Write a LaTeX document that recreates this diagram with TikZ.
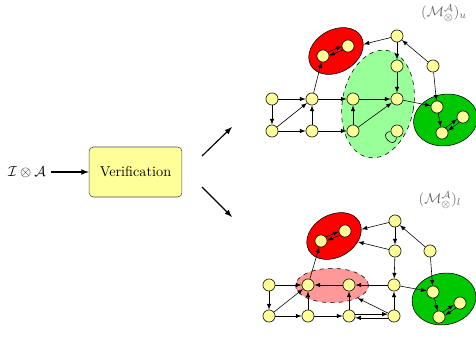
\documentclass[tikz,border=0pt]{standalone}
\usepackage{amsmath,amssymb}
\usetikzlibrary{shapes.geometric}
\definecolor{stateyellow}{RGB}{255,255,153}
\definecolor{sccred}{RGB}{255,0,0}
\definecolor{sccgreen}{RGB}{0,200,0}
\definecolor{paleGreen}{RGB}{153,255,153}
\definecolor{paleRed}{RGB}{255,153,153}
\begin{document}
\begin{tikzpicture}[
    x=0.7pt, y=0.7pt,
    >=latex,
    state/.style={circle, draw, fill=stateyellow, inner sep=0pt, minimum size=8.5pt},
    blob/.style={ellipse, draw, inner sep=0pt},
    redblob/.style={blob, fill=sccred, minimum width=40.6pt, minimum height=29.7pt, rotate=30},
    greenblob/.style={blob, fill=sccgreen, minimum width=45pt, minimum height=36pt, rotate=10},
    arrow/.style={->},
    mainarrow/.style={->, thick},
    tag/.style={text=black!60}
]
\useasboundingbox (0,0) rectangle (476,337);

% Input and verification
\node (in) at (27,165) {$\mathcal{I} \otimes \mathcal{A}$};
\node[draw=black!70, fill=stateyellow, rounded corners=3pt, minimum width=65pt, minimum height=35pt] (ver) at (135.5,165) {Verification};
\coordinate (up-start) at (202,181);
\coordinate (up-end) at (232,210);
\coordinate (lo-start) at (202,150);
\coordinate (lo-end) at (232,120);
\draw[mainarrow] (in) -- (ver);
\draw[mainarrow] (up-start) -- (up-end);
\draw[mainarrow] (lo-start) -- (lo-end);

% Upper graph
\node[tag] (u-tag) at (444,324) {$(\mathcal{M}^{\mathcal{A}}_{\otimes})_u$};
\node[redblob] (u-red) at (336,286) {};
\node[blob, dashed, fill=paleGreen, minimum width=50pt, minimum height=76pt, rotate=-10] (u-pale) at (378,233) {};
\node[greenblob] (u-green) at (445.5,217) {};
\node[state] (u1) at (272,238) {};
\node[state] (u2) at (312,238) {};
\node[state] (u3) at (353,238) {};
\node[state] (u4) at (397,238) {};
\node[state] (u5) at (272,206) {};
\node[state] (u6) at (312,206) {};
\node[state] (u7) at (353,206) {};
\node[state] (u8) at (397,206) {};
\node[state] (ut) at (397,301) {};
\node[state] (um) at (397,271) {};
\node[state] (ur) at (433,271) {};
\node[state] (ur1) at (323,281) {};
\node[state] (ur2) at (348,291) {};
\node[state] (ug1) at (437,230) {};
\node[state] (ug2) at (463,220) {};
\node[state] (ug3) at (442,204) {};

\draw[arrow] (u1) -- (u2);
\draw[arrow] (u1) -- (u5);
\draw[arrow] (u5) -- (u2);
\draw[arrow] (u5) -- (u6);
\draw[arrow] (u6) -- (u2);
\draw[arrow] (u2) -- (ur1);
\draw[arrow] (u2) -- (u3);
\draw[arrow] (u6) -- (u7);
\draw[arrow] (u7) -- (u3);
\draw[arrow] (u3) -- (u4);
\draw[arrow] (u7) -- (u4);
\draw[arrow] (ut) -- (u-red);
\draw[arrow] (ut) -- (um);
\draw[arrow] (um) -- (u4);
\draw[arrow] (ur) -- (ut);
\draw[arrow] (ur) -- (ug1);
\draw[arrow] (u4) -- (ug1);
\draw[arrow] (ur1.39) -- (ur2.184);
\draw[arrow] (ur2.219) -- (ur1.4);
\draw[arrow] (ug1) -- (ug3);
\draw[arrow] (ug3.55) -- (ug2.200);
\draw[arrow] (ug2.235) -- (ug3.20);
\draw (u8) to[out=185, in=265, min distance=10pt, max distance=10pt] (u8);

% Lower graph
\node[tag] (l-tag) at (440,137) {$(\mathcal{M}^{\mathcal{A}}_{\otimes})_l$};
\node[redblob] (l-red) at (334,101) {};
\node[blob, dashed, fill=paleRed, minimum width=51pt, minimum height=24pt] (l-pale) at (332,51.5) {};
\node[greenblob] (l-green) at (444,38) {};
\node[state] (l1) at (269,52) {};
\node[state] (l2) at (308,52) {};
\node[state] (l3) at (349,52) {};
\node[state] (l4) at (394,52) {};
\node[state] (l5) at (269,21) {};
\node[state] (l6) at (308,21) {};
\node[state] (l7) at (349,21) {};
\node[state] (l8) at (394,21) {};
\node[state] (lt) at (395,116) {};
\node[state] (lm) at (395,86) {};
\node[state] (lr) at (430,86) {};
\node[state] (lr1) at (321,96) {};
\node[state] (lr2) at (345,106) {};
\node[state] (lg1) at (433,45) {};
\node[state] (lg2) at (460,34) {};
\node[state] (lg3) at (439,20) {};

\draw[arrow] (l1) -- (l2);
\draw[arrow] (l1) -- (l5);
\draw[arrow] (l5) -- (l2);
\draw[arrow] (l5) -- (l6);
\draw[arrow] (l6) -- (l2);
\draw[arrow] (l2) -- (lr1);
\draw[arrow] (l3) -- (l2);
\draw[arrow] (l6) -- (l7);
\draw[arrow] (l7) -- (l3);
\draw[arrow] (l4) -- (l3);
\draw[arrow] (l8) -- (l-pale);
\draw[arrow] (l8) -- (l4);
\draw[arrow] (l7.17) -- (l8.163);
\draw[arrow] (l8.197) -- (l7.343);
\draw[arrow] (lt) -- (l-red);
\draw[arrow] (lm) -- (l-red);
\draw[arrow] (lt) -- (lm);
\draw[arrow] (lm) -- (l4);
\draw[arrow] (lr) -- (lt);
\draw[arrow] (lr) -- (lg1);
\draw[arrow] (l4) -- (lg1);
\draw[arrow] (lr1.40) -- (lr2.185);
\draw[arrow] (lr2.220) -- (lr1.5);
\draw[arrow] (lg1) -- (lg3);
\draw[arrow] (lg3.51) -- (lg2.196);
\draw[arrow] (lg2.231) -- (lg3.16);

\end{tikzpicture}
\end{document}
